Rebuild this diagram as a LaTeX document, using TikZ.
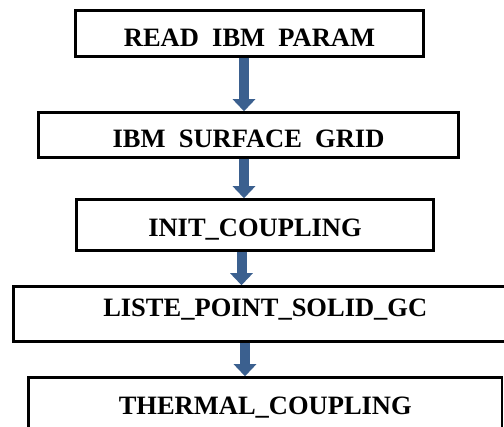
\documentclass[tikz,border=0pt]{standalone}
\usepackage{fontspec}
\setmainfont{Liberation Serif}
\usetikzlibrary{arrows.meta, positioning}
\definecolor{arrblue}{RGB}{59,96,143}

\begin{document}
\begin{tikzpicture}[
  x=1pt, y=-1pt,
  box/.style={draw, line width=2.5pt, inner sep=0pt, align=center,
              text height=26pt, text depth=0pt,
              font=\fontsize{26.5}{30}\selectfont\bfseries},
  arr/.style={-{Triangle[length=12pt, width=22pt]}, line width=10pt, draw=arrblue}
]
  \useasboundingbox (0,0) rectangle (504,427);
  \clip (0,0) rectangle (504,427);

  % - Cac buoc -
  \node[box, minimum width=348pt, minimum height=46pt] (param) at (249.5,33.5) {READ~~IBM~~PARAM};
  \node[box, minimum width=420pt, minimum height=45pt] (grid)  at (248.5,135)  {IBM~~SURFACE~~GRID};
  \node[box, minimum width=357pt, minimum height=51pt, text height=24pt] (init) at (255,225) {INIT\_COUPLING};
  \node[box, minimum width=503.5pt, minimum height=55pt, text height=6pt] (liste) at (265.25,314) {LISTE\_POINT\_SOLID\_GC};
  \node[box, minimum width=473.5pt, minimum height=56pt, text height=19pt] (therm) at (265.25,405.5) {THERMAL\_COUPLING};

  % - Mui ten -
  \draw[arr] ([xshift=-5.5pt]param.south) -- ([xshift=-4.5pt]grid.north);
  \draw[arr] ([xshift=-4.5pt]grid.south)  -- ([xshift=-11pt]init.north);
  \draw[arr] ([xshift=-13.5pt]init.south) -- ([xshift=-23.75pt]liste.north);
  \draw[arr] ([xshift=-20.25pt]liste.south) -- ([xshift=-20.25pt]therm.north);
\end{tikzpicture}
\end{document}
